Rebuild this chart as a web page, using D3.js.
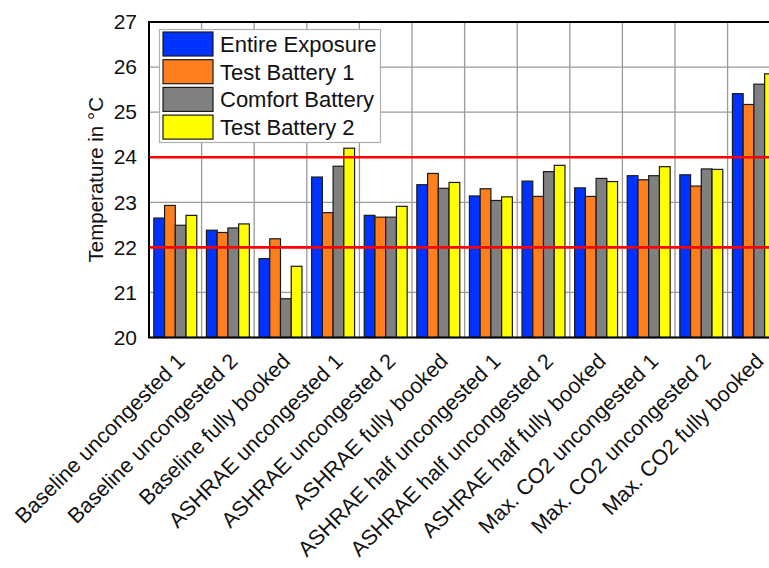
<!DOCTYPE html>
<html><head><meta charset="utf-8">
<script src="https://cdn.jsdelivr.net/npm/d3@7"></script>
<style>html,body{margin:0;padding:0;background:#fff;overflow:hidden}</style>
</head><body>
<svg id="c" width="769" height="568"></svg>
<script>
const categories = ["Baseline uncongested 1","Baseline uncongested 2","Baseline fully booked","ASHRAE uncongested 1","ASHRAE uncongested 2","ASHRAE fully booked","ASHRAE half uncongested 1","ASHRAE half uncongested 2","ASHRAE half fully booked","Max. CO2 uncongested 1","Max. CO2 uncongested 2","Max. CO2 fully booked"];
const seriesNames = ["Entire Exposure","Test Battery 1","Comfort Battery","Test Battery 2"];
const entireExposure = [22.65, 22.38, 21.75, 23.56, 22.71, 23.39, 23.14, 23.47, 23.32, 23.59, 23.61, 25.41];
const testBattery1   = [22.93, 22.33, 22.19, 22.77, 22.67, 23.64, 23.30, 23.13, 23.13, 23.50, 23.36, 25.17];
const comfortBattery = [22.49, 22.43, 20.86, 23.80, 22.67, 23.31, 23.04, 23.68, 23.53, 23.59, 23.74, 25.62];
const testBattery2   = [22.71, 22.52, 21.58, 24.20, 22.91, 23.44, 23.12, 23.82, 23.46, 23.79, 23.73, 25.85];
const yTicks = [20, 21, 22, 23, 24, 25, 26, 27];
const comfortLimits = [22, 24];
const colors = ["#0033ff", "#ff7f1f", "#808080", "#ffff00"];

const seriesValues = [entireExposure, testBattery1, comfortBattery, testBattery2];
const font = "'Liberation Sans', Arial, Helvetica, sans-serif";
const svg = d3.select("#c");
const pLeft = 149, pTop = 22, pBottom = 337.5, groupW = 52.6;
const pRight = pLeft + groupW * categories.length;

const x0 = d3.scaleBand().domain(categories).range([pLeft, pRight]).padding(0);
const x1 = d3.scaleBand().domain(seriesNames).range([0, x0.bandwidth()]).paddingInner(0).paddingOuter(0.45);
const y = d3.scaleLinear().domain([20, 27]).range([pBottom, pTop]);

// grid
const g = svg.append("g");
g.selectAll("line.hg").data(yTicks).join("line")
  .attr("x1", pLeft).attr("x2", pRight).attr("y1", d => y(d)).attr("y2", d => y(d))
  .attr("stroke", "#9a9a9a").attr("stroke-width", 1.3);
g.selectAll("line.vg").data(categories.slice(1)).join("line")
  .attr("x1", d => x0(d)).attr("x2", d => x0(d)).attr("y1", pTop).attr("y2", pBottom)
  .attr("stroke", "#9a9a9a").attr("stroke-width", 1.3);

// bars
const groups = svg.append("g").selectAll("g").data(categories).join("g")
  .attr("transform", d => `translate(${x0(d)},0)`);
groups.selectAll("rect").data((d, i) => seriesNames.map((s, k) => ({s, k, v: seriesValues[k][i]})))
  .join("rect")
  .attr("x", d => x1(d.s)).attr("width", x1.bandwidth())
  .attr("y", d => y(d.v)).attr("height", d => pBottom - y(d.v))
  .attr("fill", d => colors[d.k]).attr("stroke", "#1a1a1a").attr("stroke-width", 1.2);

// red comfort lines
svg.append("g").selectAll("line").data(comfortLimits).join("line")
  .attr("x1", pLeft).attr("x2", pRight).attr("y1", d => y(d)).attr("y2", d => y(d))
  .attr("stroke", "#ff0000").attr("stroke-width", 2.6);

// frame
svg.append("path").attr("d", `M${pRight},${pTop}H${pLeft}V${pBottom}H${pRight}`)
  .attr("fill", "none").attr("stroke", "#000").attr("stroke-width", 2);

// y axis labels
const yAxis = d3.axisLeft(y).tickValues(yTicks).tickSize(0).tickPadding(12).tickFormat(d3.format("d"));
const ya = svg.append("g").attr("transform", `translate(${pLeft},0)`).call(yAxis);
ya.select(".domain").remove();
ya.selectAll("text").attr("font-family", font).attr("font-size", 21).attr("fill", "#111");

// x axis labels
const xAxis = d3.axisBottom(x0).tickSize(0).tickPadding(0);
const xa = svg.append("g").attr("transform", `translate(0,${pBottom})`).call(xAxis);
xa.select(".domain").remove();
xa.selectAll("text")
  .attr("font-family", font).attr("font-size", 21.5).attr("fill", "#111")
  .attr("text-anchor", "end").attr("dy", 0).attr("y", 0)
  .attr("transform", "translate(11,25) rotate(-45)");

// y title
svg.append("text").attr("transform", `translate(103,${(pTop + pBottom) / 2}) rotate(-90)`)
  .attr("text-anchor", "middle").attr("font-family", font).attr("font-size", 20.5).attr("fill", "#111")
  .text("Temperature in °C");

// legend
const lg = svg.append("g");
lg.append("rect").attr("x", 159.5).attr("y", 29.5).attr("width", 221).attr("height", 113)
  .attr("fill", "#fff").attr("stroke", "#b0b0b0").attr("stroke-width", 1.2);
const items = lg.selectAll("g").data(seriesNames).join("g")
  .attr("transform", (d, i) => `translate(163,${32 + i * 27.7})`);
items.append("rect").attr("width", 50).attr("height", 24)
  .attr("fill", (d, i) => colors[i]).attr("stroke", "#1a1a1a").attr("stroke-width", 1.2);
items.append("text").attr("x", 57).attr("y", 20).attr("font-family", font).attr("font-size", 22)
  .attr("fill", "#111").text(d => d);
</script>
</body></html>
